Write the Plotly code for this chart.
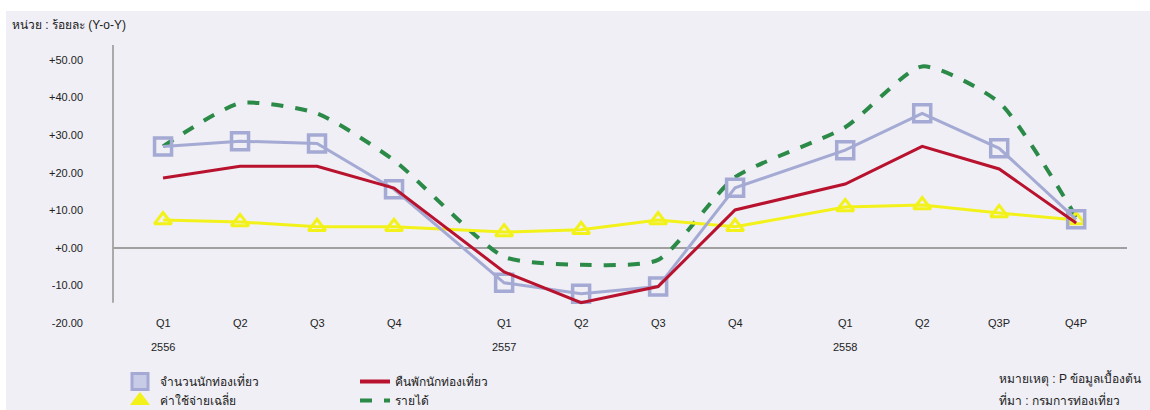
import plotly.graph_objects as go

quarters = ["Q1", "Q2", "Q3", "Q4", "Q1", "Q2", "Q3", "Q4", "Q1", "Q2", "Q3P", "Q4P"]
year_index = [0, 0, 0, 0, 1, 1, 1, 1, 2, 2, 2, 2]
year_labels = ["2556", "2557", "2558"]

tourists = [27.0, 28.4, 27.8, 15.6, -9.3, -12.2, -10.3, 16.0, 26.0, 35.8, 26.5, 7.6]
nights = [18.6, 21.7, 21.7, 15.9, -6.4, -14.6, -10.3, 10.1, 17.0, 27.0, 21.0, 6.6]
spending = [7.4, 6.9, 5.6, 5.6, 4.2, 4.8, 7.4, 5.6, 10.9, 11.4, 9.3, 7.4]
revenue = [27.0, 38.5, 35.8, 23.3, -2.4, -4.5, -3.2, 18.8, 32.1, 48.3, 38.7, 8.2]

y_ticks = [50, 40, 30, 20, 10, 0, -10, -20]
y_ticktext = ["+50.00", "+40.00", "+30.00", "+20.00", "+10.00", "+0.00", "-10.00", "-20.00"]

names = ["จำนวนนักท่องเที่ยว", "คืนพักนักท่องเที่ยว", "ค่าใช้จ่ายเฉลี่ย", "รายได้"]

# x positions: quarter index plus extra gap between years
YEAR_GAP = 0.43
x = [i + YEAR_GAP * yi for i, yi in enumerate(year_index)]

LAV = "#a4aad3"
RED = "#b8122e"
YEL = "#f2f21a"
GRN = "#2b8a47"
PANEL = "#efeff5"
FONT = "Liberation Sans, Arial, sans-serif"

fig = go.Figure()

fig.add_trace(go.Scatter(
    x=x, y=revenue, mode="lines", line=dict(color=GRN, width=4, dash="dash", shape="spline", smoothing=0.6),
    showlegend=False, hoverinfo="skip"))
fig.add_trace(go.Scatter(
    x=x, y=spending, mode="lines+markers", line=dict(color=YEL, width=3),
    marker=dict(symbol="triangle-up-open", size=15, color=YEL, line=dict(width=3, color=YEL)),
    showlegend=False))
fig.add_trace(go.Scatter(
    x=x, y=tourists, mode="lines+markers", line=dict(color=LAV, width=3),
    marker=dict(symbol="square-open", size=17, color=LAV, line=dict(width=3.5, color=LAV)),
    showlegend=False))
fig.add_trace(go.Scatter(
    x=x, y=nights, mode="lines", line=dict(color=RED, width=3),
    showlegend=False))

# legend entries
fig.add_trace(go.Scatter(x=[None], y=[None], mode="markers", name=names[0],
                         marker=dict(symbol="square", size=16, color="#c9cce6", line=dict(width=3, color=LAV)),
                         legend="legend"))
fig.add_trace(go.Scatter(x=[None], y=[None], mode="markers", name=names[2],
                         marker=dict(symbol="triangle-up", size=16, color=YEL, line=dict(width=1, color=YEL)),
                         legend="legend"))
fig.add_trace(go.Scatter(x=[None], y=[None], mode="lines", name=names[1],
                         line=dict(color=RED, width=4), legend="legend2"))
fig.add_trace(go.Scatter(x=[None], y=[None], mode="lines", name=names[3],
                         line=dict(color=GRN, width=4, dash="dash"), legend="legend2"))

L, R, T, B = 113, 23, 45, 87
W, H = 1150, 410
pw, ph = W - L - R, H - T - B

def px_x(p):
    return (p - L) / pw

def px_y(p):
    return (H - B - p) / ph

annotations = []
for xi, q in zip(x, quarters):
    annotations.append(dict(x=xi, y=-20, xref="x", yref="y", text=q, showarrow=False,
                            font=dict(size=11, color="#222", family=FONT), yanchor="middle"))
first_of_year = {}
for xi, yi in zip(x, year_index):
    first_of_year.setdefault(yi, xi)
for yi, lab in enumerate(year_labels):
    annotations.append(dict(x=first_of_year[yi], y=-20, xref="x", yref="y", yshift=-24, text=lab,
                            showarrow=False, font=dict(size=11, color="#222", family=FONT), yanchor="middle"))

annotations.append(dict(x=px_x(10), y=px_y(25), xref="paper", yref="paper", xanchor="left", yanchor="middle",
                        text="หน่วย : ร้อยละ (Y-o-Y)", showarrow=False,
                        font=dict(size=12, color="#222", family=FONT)))
annotations.append(dict(x=px_x(997), y=px_y(378), xref="paper", yref="paper", xanchor="left", yanchor="middle",
                        text="หมายเหตุ : P ข้อมูลเบื้องต้น", showarrow=False,
                        font=dict(size=12, color="#222", family=FONT)))
annotations.append(dict(x=px_x(997), y=px_y(400), xref="paper", yref="paper", xanchor="left", yanchor="middle",
                        text="ที่มา : กรมการท่องเที่ยว", showarrow=False,
                        font=dict(size=12, color="#222", family=FONT)))

shapes = [
    dict(type="rect", xref="paper", yref="paper", x0=px_x(6), x1=px_x(W + 5), y0=px_y(H + 5), y1=px_y(11),
         fillcolor=PANEL, line=dict(width=0), layer="below"),
    dict(type="line", xref="paper", yref="y", x0=0, x1=0, y0=-14.6, y1=54,
         line=dict(color="#aaaaaa", width=2), layer="below"),
]

fig.update_layout(
    width=W, height=H,
    margin=dict(l=L, r=R, t=T, b=B, autoexpand=False),
    paper_bgcolor="white", plot_bgcolor=PANEL,
    font=dict(family=FONT, color="#222"),
    xaxis=dict(range=[-0.65, 12.52], showgrid=False, zeroline=False, showticklabels=False, showline=False),
    yaxis=dict(range=[-20, 54], tickvals=y_ticks, ticktext=y_ticktext, showgrid=False,
               zeroline=True, zerolinecolor="#a0a0a0", zerolinewidth=2, showline=False,
               ticks="", ticklabelstandoff=29, tickfont=dict(size=11, color="#222", family=FONT)),
    legend=dict(x=px_x(120), y=px_y(367), xanchor="left", yanchor="top", bgcolor="rgba(0,0,0,0)",
                font=dict(size=12, color="#222", family=FONT), itemwidth=30, tracegroupgap=0),
    legend2=dict(x=px_x(355), y=px_y(367), xanchor="left", yanchor="top", bgcolor="rgba(0,0,0,0)",
                 font=dict(size=12, color="#222", family=FONT), itemwidth=30, tracegroupgap=0),
    annotations=annotations,
    shapes=shapes,
    showlegend=True,
)

fig.write_html("out.html")
